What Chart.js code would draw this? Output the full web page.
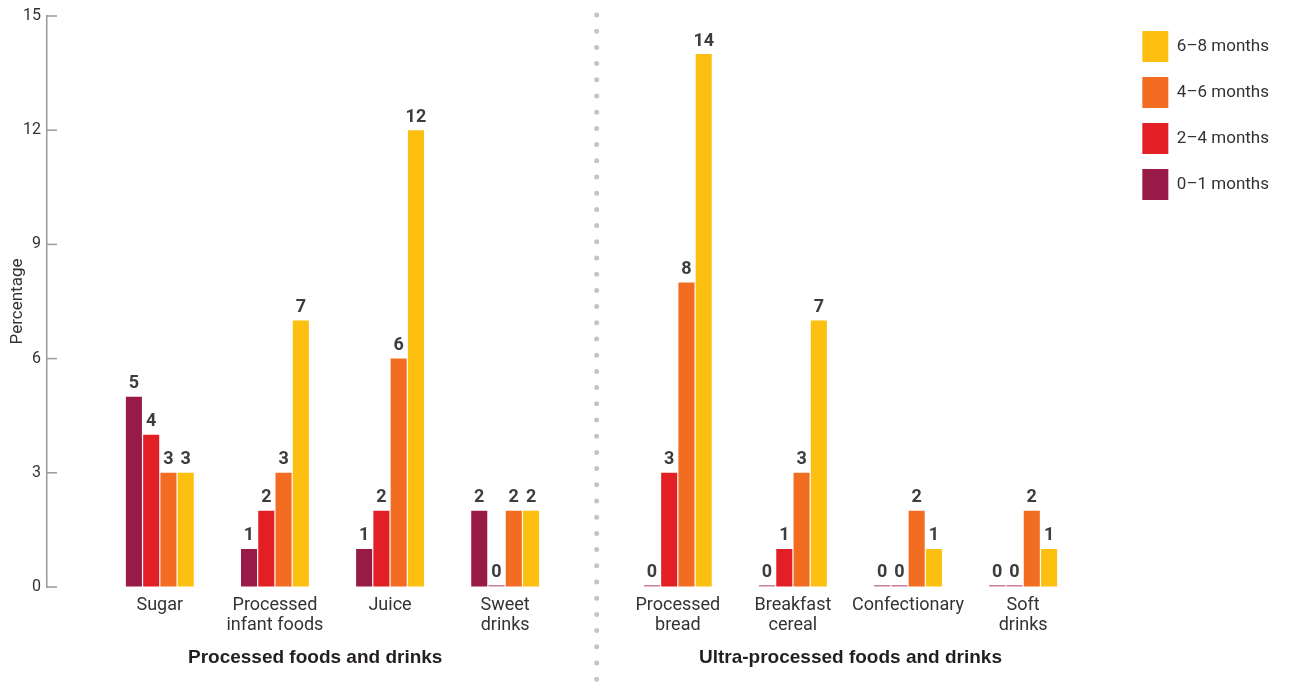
<!DOCTYPE html>
<html>
<head>
<meta charset="utf-8">
<script src="https://cdn.jsdelivr.net/npm/chart.js@4.4.1/dist/chart.umd.min.js"></script>
<style>
    body { margin: 0; background: #fff; }
    #box { width: 1289px; height: 684px; }
</style>
</head>
<body>
<div id="box"><canvas id="chart"></canvas></div>
<script>
// dati
const categories = [
    ["Sugar"],
    ["Processed", "infant foods"],
    ["Juice"],
    ["Sweet", "drinks"],
    ["Processed", "bread"],
    ["Breakfast", "cereal"],
    ["Confectionary"],
    ["Soft", "drinks"],
]
const seriesNames = ["0–1 months", "2–4 months", "4–6 months", "6–8 months"]
const months01 = [5, 1, 1, 2, 0, 0, 0, 0]
const months24 = [4, 2, 2, 0, 3, 1, 0, 0]
const months46 = [3, 3, 6, 2, 8, 3, 2, 2]
const months68 = [3, 7, 12, 2, 14, 7, 1, 1]
const yTicks = [0, 3, 6, 9, 12, 15]
const groupTitles = ["Processed foods and drinks", "Ultra-processed foods and drinks"]

const colors = ["#981a47", "#e31f26", "#f26c21", "#fdc010"]
const zeroColor = "#c97c9b"
const FONT = "Roboto"

// i gruppi di destra sono spostati di mezzo passo
function slot(i) {
    return 2 * i + (i >= 4 ? 1 : 0)
}
const slots = categories.map((c, i) => slot(i))

function makeDataset(name, values, color) {
    return {
        label: name,
        data: values.map((v, i) => ({ x: slot(i), y: v })),
        backgroundColor: (c) => (c.raw && c.raw.y === 0 ? zeroColor : color),
        borderWidth: 0,
        minBarLength: 2,
        categoryPercentage: 0.6,
        barPercentage: 0.93,
    }
}

// etichette sopra le barre, tacche interne, separatore e titoli dei gruppi
const extras = {
    id: "extras",
    afterDatasetsDraw(chart) {
        const ctx = chart.ctx
        const area = chart.chartArea
        const x = chart.scales.x
        const y = chart.scales.y
        ctx.save()

        // tacche dell'asse y verso l'interno
        ctx.strokeStyle = "#9a9a9a"
        ctx.lineWidth = 1.5
        yTicks.forEach((t) => {
            const py = y.getPixelForValue(t)
            ctx.beginPath()
            ctx.moveTo(area.left, py)
            ctx.lineTo(area.left + 10, py)
            ctx.stroke()
        })

        // valori
        ctx.fillStyle = "#3d3d3d"
        ctx.font = "bold 18px " + FONT
        ctx.textAlign = "center"
        ctx.textBaseline = "bottom"
        chart.data.datasets.forEach((ds, di) => {
            chart.getDatasetMeta(di).data.forEach((el, i) => {
                ctx.fillText(String(ds.data[i].y), el.x, Math.min(el.y, el.base) - 4)
            })
        })

        // linea tratteggiata a punti
        const sx = x.getPixelForValue(7.59)
        ctx.strokeStyle = "#c4c4c4"
        ctx.lineWidth = 5
        ctx.lineCap = "round"
        ctx.setLineDash([0, 16.2])
        ctx.beginPath()
        ctx.moveTo(sx, 15)
        ctx.lineTo(sx, 684)
        ctx.stroke()
        ctx.setLineDash([])

        // titoli dei gruppi
        ctx.fillStyle = "#231f20"
        ctx.font = "bold 19px 'Liberation Sans'"
        ctx.textBaseline = "middle"
        ctx.fillText(groupTitles[0], x.getPixelForValue(2.7), 658)
        ctx.fillText(groupTitles[1], x.getPixelForValue(12), 658)
        ctx.restore()
    },
}

function main() {
    new Chart(document.getElementById("chart"), {
        type: "bar",
        data: {
            datasets: [
                makeDataset(seriesNames[0], months01, colors[0]),
                makeDataset(seriesNames[1], months24, colors[1]),
                makeDataset(seriesNames[2], months46, colors[2]),
                makeDataset(seriesNames[3], months68, colors[3]),
            ],
        },
        options: {
            responsive: true,
            maintainAspectRatio: false,
            animation: false,
            layout: { padding: { top: 16, right: 10, bottom: 0, left: 0 } },
            scales: {
                x: {
                    type: "linear",
                    offset: false,
                    min: -1.96,
                    max: 16.81,
                    grid: { display: false },
                    border: { display: false },
                    afterBuildTicks: (s) => {
                        s.ticks = slots.map((v) => ({ value: v }))
                    },
                    afterFit: (s) => {
                        s.height = 97
                    },
                    ticks: {
                        autoSkip: false,
                        maxRotation: 0,
                        padding: 1,
                        color: "#333",
                        font: { family: FONT, size: 18, lineHeight: 1.1 },
                        callback: (v, i) => categories[i],
                    },
                },
                y: {
                    min: 0,
                    max: 15,
                    afterBuildTicks: (s) => {
                        s.ticks = yTicks.map((v) => ({ value: v }))
                    },
                    afterFit: (s) => {
                        s.width = 47
                    },
                    grid: { drawOnChartArea: false, drawTicks: false },
                    border: { display: true, color: "#9a9a9a", width: 1.5 },
                    ticks: {
                        padding: 6,
                        color: "#333",
                        font: { family: FONT, size: 16 },
                    },
                    title: {
                        display: true,
                        text: "Percentage",
                        color: "#333",
                        font: { family: FONT, size: 17 },
                        padding: { top: 8, bottom: 0 },
                    },
                },
            },
            plugins: {
                legend: {
                    position: "right",
                    align: "start",
                    reverse: true,
                    labels: {
                        boxWidth: 26,
                        boxHeight: 31,
                        padding: 15,
                        color: "#333",
                        font: { family: FONT, size: 17 },
                    },
                },
                tooltip: { enabled: false },
            },
        },
        plugins: [extras],
    })
}

document.addEventListener("DOMContentLoaded", main)
</script>
</body>
</html>
